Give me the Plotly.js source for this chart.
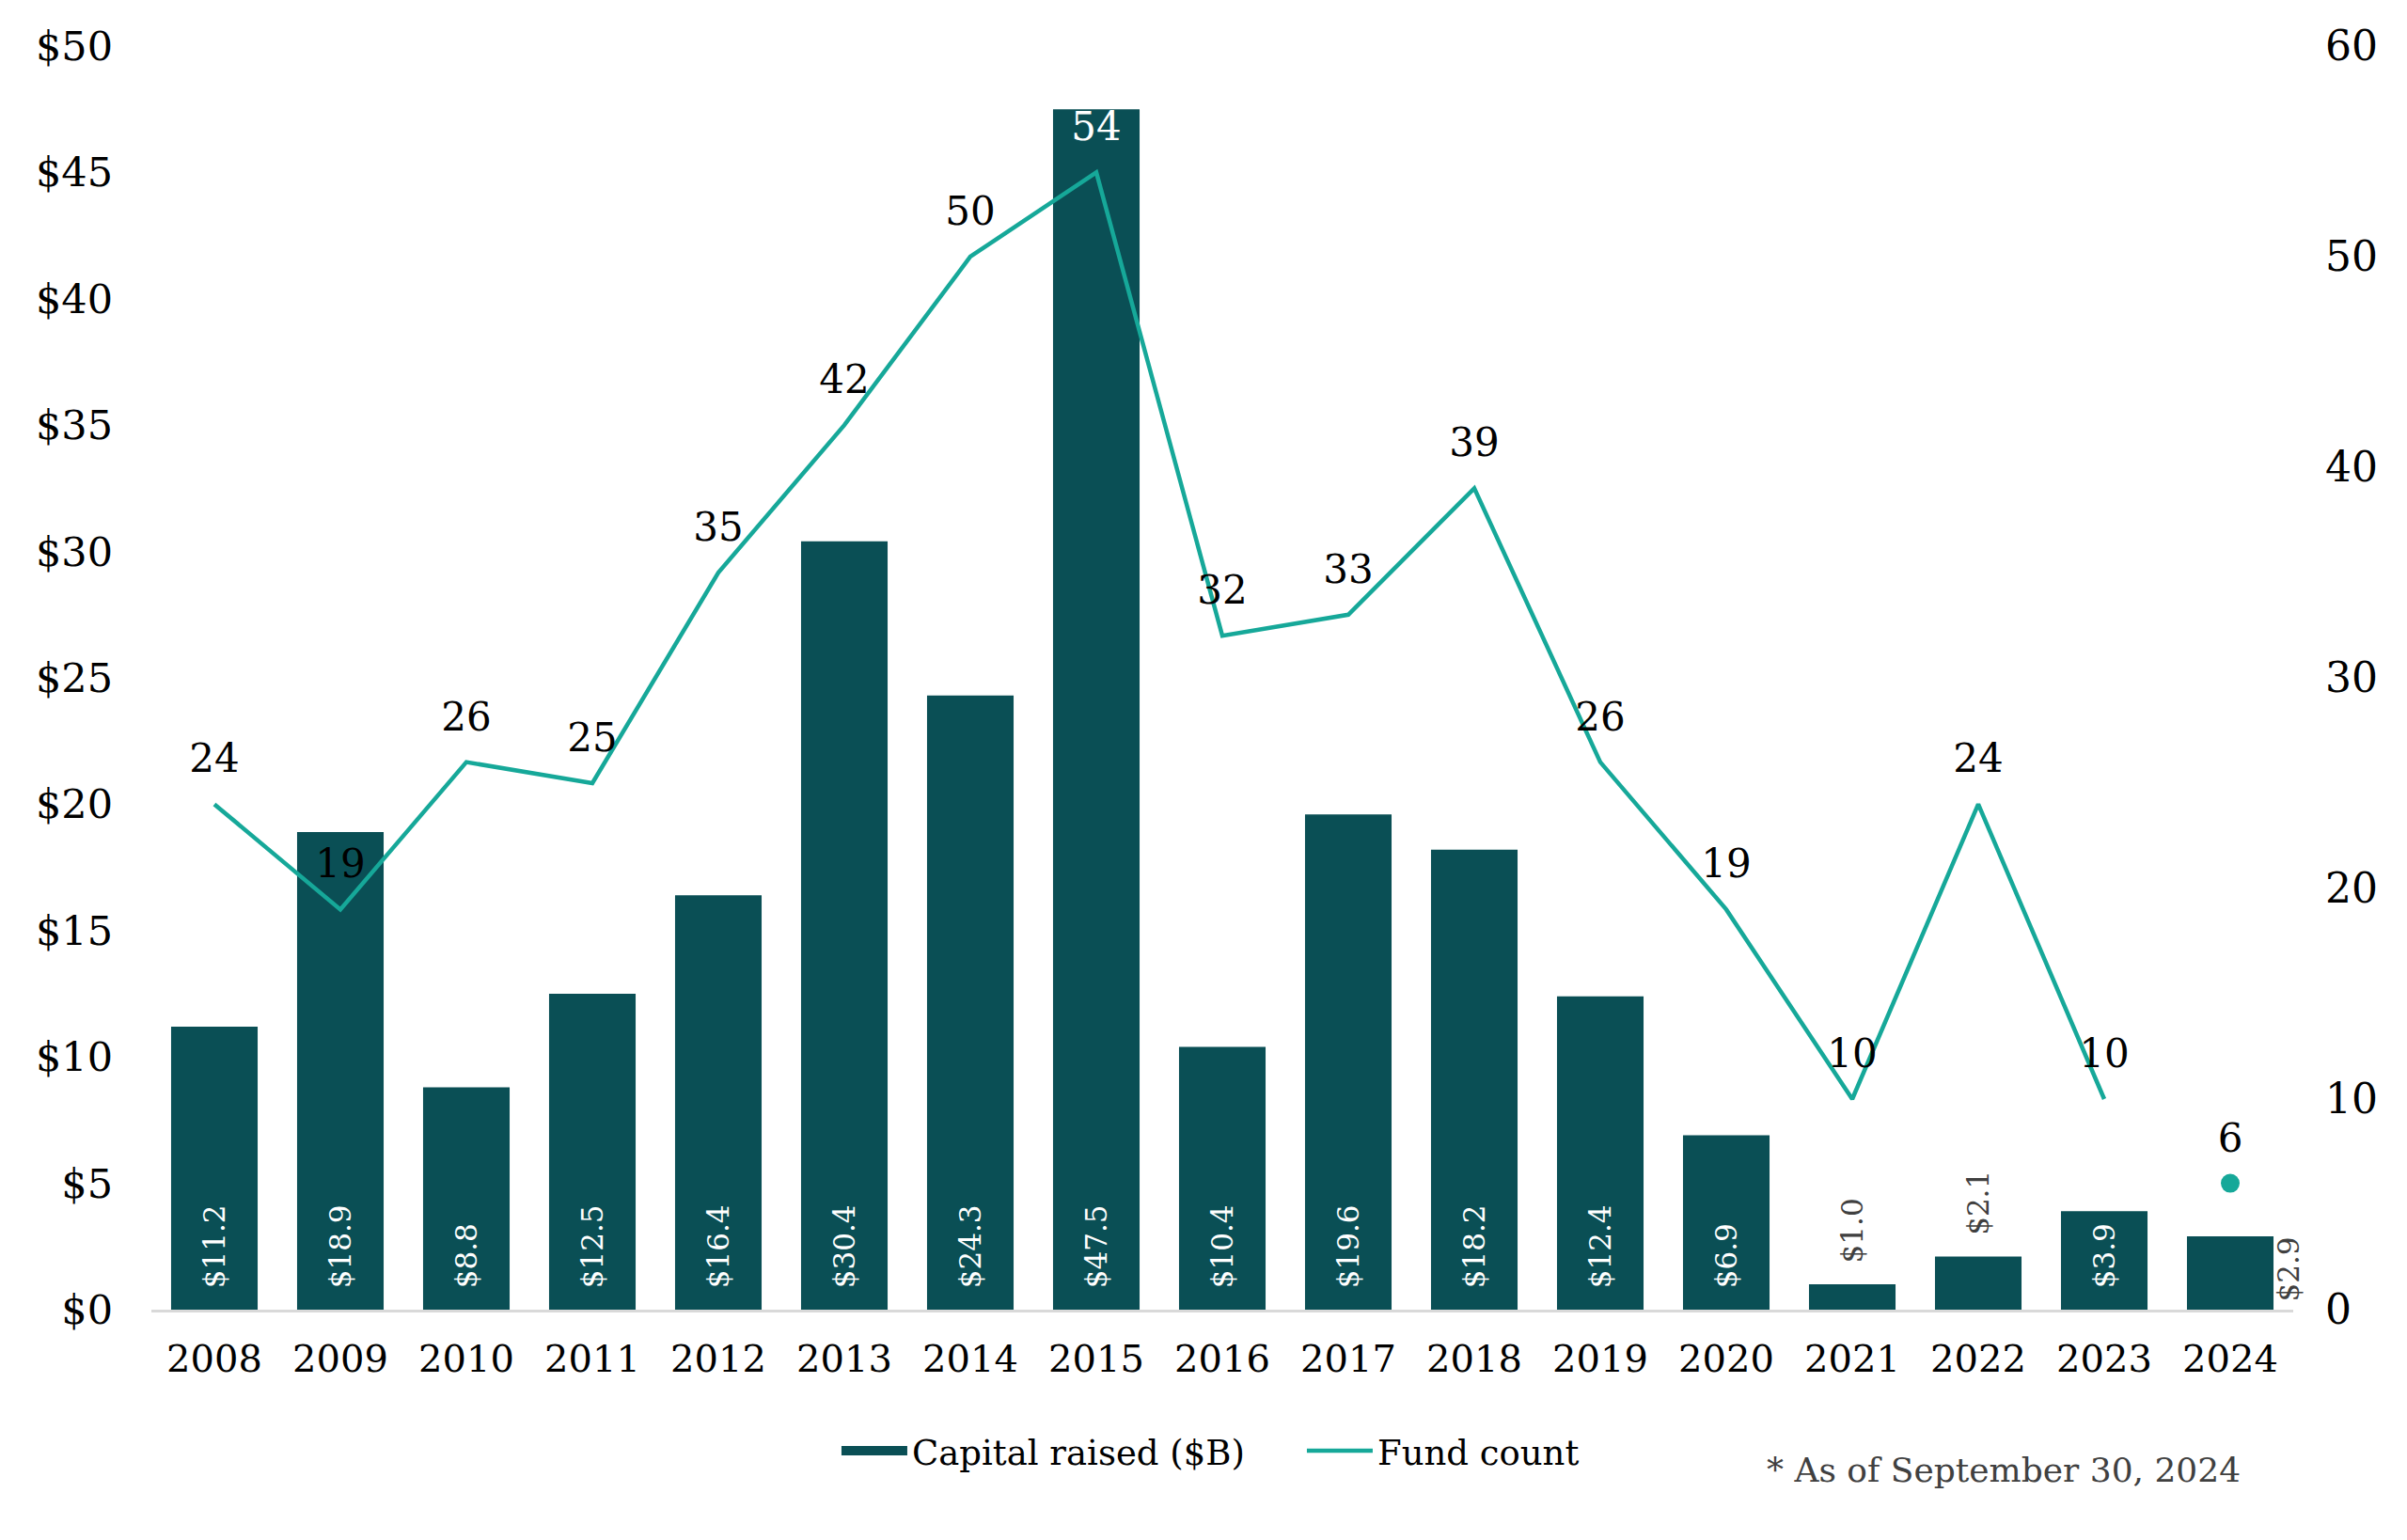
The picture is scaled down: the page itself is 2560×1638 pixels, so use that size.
<!DOCTYPE html>
<html>
<head>
<meta charset="utf-8">
<script src="https://cdn.plot.ly/plotly-3.0.1.min.js"></script>
<style>
  html, body { margin: 0; padding: 0; background: #ffffff; }
  #chart { width: 2560px; height: 1638px; }
</style>
</head>
<body>
<div id="chart"></div>
<script>
const years = ['2008','2009','2010','2011','2012','2013','2014','2015','2016','2017','2018','2019','2020','2021','2022','2023','2024'];
const capitalRaised = [11.2, 18.9, 8.8, 12.5, 16.4, 30.4, 24.3, 47.5, 10.4, 19.6, 18.2, 12.4, 6.9, 1.0, 2.1, 3.9, 2.9];
const fundCount = [24, 19, 26, 25, 35, 42, 50, 54, 32, 33, 39, 26, 19, 10, 24, 10, 6];
const barLabelPositions = ['inside','inside','inside','inside','inside','inside','inside','inside','inside','inside','inside','inside','inside','outside','outside','inside','none'];
const countLabelColors = ['#000','#000','#000','#000','#000','#000','#000','#ffffff','#000','#000','#000','#000','#000','#000','#000','#000','#000'];
const footnote = '* As of September 30, 2024';

const FONT = "'DejaVu Serif', Georgia, serif";
const BAR_COLOR = '#0a4f55';
const LINE_COLOR = '#16a899';

const lastIdx = years.length - 1;
const fmtMoney = v => '$' + v.toFixed(1);

const traces = [
  {
    type: 'bar',
    name: 'Capital raised ($B)',
    showlegend: false,
    x: years,
    y: capitalRaised,
    marker: { color: BAR_COLOR },
    text: capitalRaised.map(v => '\u2007' + fmtMoney(v)),
    texttemplate: '%{text}',
    textposition: barLabelPositions,
    insidetextanchor: 'start',
    textangle: -90,
    constraintext: 'none',
    insidetextfont: { family: FONT, size: 31, color: '#ffffff' },
    outsidetextfont: { family: FONT, size: 31, color: '#404040' },
    cliponaxis: false,
    hoverinfo: 'skip'
  },
  {
    // legend swatch for the bars (wide rectangle like the original)
    type: 'scatter',
    mode: 'lines',
    name: 'Capital raised ($B)',
    x: [null],
    y: [null],
    line: { color: BAR_COLOR, width: 24 },
    hoverinfo: 'skip'
  },
  {
    type: 'scatter',
    mode: 'lines',
    name: 'Fund count',
    x: years.slice(0, lastIdx),
    y: fundCount.slice(0, lastIdx),
    yaxis: 'y2',
    line: { color: LINE_COLOR, width: 4.5 },
    hoverinfo: 'skip'
  },
  {
    type: 'scatter',
    mode: 'markers',
    showlegend: false,
    x: years.slice(lastIdx),
    y: fundCount.slice(lastIdx),
    yaxis: 'y2',
    marker: { color: LINE_COLOR, size: 20 },
    hoverinfo: 'skip'
  },
  {
    type: 'scatter',
    mode: 'markers+text',
    showlegend: false,
    x: years,
    y: fundCount,
    yaxis: 'y2',
    text: fundCount.map(String),
    textposition: 'top center',
    textfont: { family: FONT, size: 42, color: countLabelColors },
    marker: { size: 36, color: 'rgba(0,0,0,0)' },
    cliponaxis: false,
    hoverinfo: 'skip'
  }
];

const layout = {
  width: 2560,
  height: 1638,
  paper_bgcolor: '#ffffff',
  plot_bgcolor: '#ffffff',
  margin: { l: 161, r: 121, t: 49, b: 245 },
  font: { family: FONT, color: '#000000', size: 40 },
  bargap: 0.313,
  showlegend: true,
  legend: {
    orientation: 'h',
    x: 0.320, xanchor: 'left',
    y: -0.112, yanchor: 'middle',
    font: { family: FONT, size: 37, color: '#000000' },
    traceorder: 'normal',
    itemwidth: 70,
    entrywidth: 410
  },
  xaxis: {
    type: 'category',
    range: [-0.5, 16.5],
    showline: true,
    linecolor: '#d9d9d9',
    linewidth: 3,
    showgrid: false,
    zeroline: false,
    ticks: '',
    ticklabelstandoff: 15,
    tickfont: { family: FONT, size: 40, color: '#000000' }
  },
  yaxis: {
    range: [0, 50],
    dtick: 5,
    tick0: 0,
    tickprefix: '$',
    showgrid: false,
    zeroline: false,
    showline: false,
    ticks: '',
    ticklabelstandoff: 40,
    tickfont: { family: FONT, size: 43, color: '#000000' }
  },
  yaxis2: {
    overlaying: 'y',
    side: 'right',
    range: [0, 60],
    dtick: 10,
    tick0: 0,
    showgrid: false,
    zeroline: false,
    showline: false,
    ticks: '',
    ticklabelstandoff: 33,
    tickfont: { family: FONT, size: 44, color: '#000000' }
  },
  annotations: [
    {
      x: lastIdx,
      y: 0,
      xref: 'x',
      yref: 'y',
      text: fmtMoney(capitalRaised[lastIdx]),
      textangle: -90,
      showarrow: false,
      xshift: 61,
      yshift: 6,
      xanchor: 'center',
      yanchor: 'bottom',
      font: { family: FONT, size: 31, color: '#404040' }
    },
    {
      x: 0.865,
      y: -0.127,
      xref: 'paper',
      yref: 'paper',
      text: footnote,
      showarrow: false,
      xanchor: 'center',
      yanchor: 'middle',
      font: { family: FONT, size: 36, color: '#404040' }
    }
  ]
};

Plotly.newPlot('chart', traces, layout, { staticPlot: true, displayModeBar: false });
</script>
</body>
</html>
